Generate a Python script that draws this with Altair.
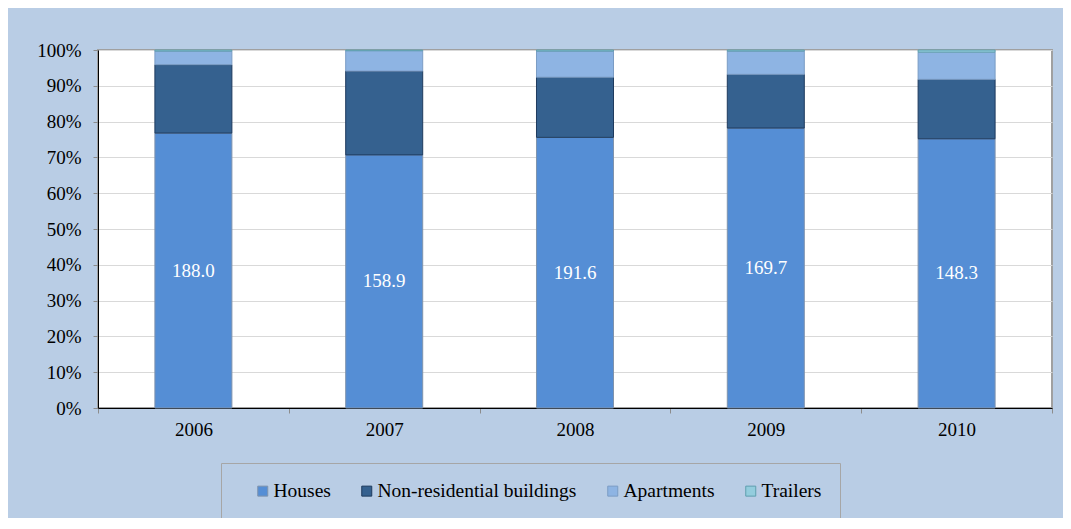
import altair as alt
import pandas as pd

years = ["2006", "2007", "2008", "2009", "2010"]
series = ["Houses", "Non-residential buildings", "Apartments", "Trailers"]
houses = [76.8, 70.7, 75.6, 78.2, 75.2]
nonres = [19.1, 23.4, 16.8, 15.0, 16.6]
apartments = [3.8, 5.7, 7.3, 6.5, 7.6]
trailers = [0.3, 0.2, 0.3, 0.3, 0.6]
house_labels = ["188.0", "158.9", "191.6", "169.7", "148.3"]
y_ticks = [0.0, 0.1, 0.2, 0.3, 0.4, 0.5, 0.6, 0.7, 0.8, 0.9, 1.0]

fills = ["#558ed5", "#35618f", "#8eb4e3", "#93cddd"]
strokes = ["#7f93ad", "#1f3b5e", "#7b9cc4", "#5f9fae"]

rows = []
for s_i, (name, vals) in enumerate(zip(series, [houses, nonres, apartments, trailers])):
    for y, v in zip(years, vals):
        rows.append({"year": y, "series": name, "value": v, "order": s_i})
df = pd.DataFrame(rows)

totals = [h + n + a + t for h, n, a, t in zip(houses, nonres, apartments, trailers)]
lab = pd.DataFrame({
    "year": years,
    "mid": [h / tot / 2 for h, tot in zip(houses, totals)],
    "label": house_labels,
})

FONT = "Liberation Serif"

x_axis = alt.Axis(labelAngle=0, tickBand="extent", labelPadding=7, labelOverlap=False,
                  labelFont=FONT, labelFontSize=19)
y_axis = alt.Axis(format=".0%", values=y_ticks, grid=True, labelPadding=12,
                  labelOverlap=False, labelFont=FONT, labelFontSize=19)
y_scale = alt.Scale(domain=[0, 1], nice=False)

legend = alt.Legend(orient="none", legendX=123, legendY=413, direction="horizontal",
                    title=None, labelFont=FONT, labelFontSize=19.5)

bars = alt.Chart(df).mark_bar(width=alt.RelativeBandSize(0.4036), strokeWidth=1).encode(
    x=alt.X("year:N", title=None, sort=years,
            scale=alt.Scale(paddingInner=0, paddingOuter=0), axis=x_axis),
    y=alt.Y("value:Q", stack="normalize", title=None, scale=y_scale, axis=y_axis),
    fill=alt.Fill("series:N", sort=series, title=None,
                  scale=alt.Scale(domain=series, range=fills), legend=legend),
    stroke=alt.Stroke("series:N", sort=series, title=None,
                      scale=alt.Scale(domain=series, range=strokes), legend=legend),
    order=alt.Order("order:Q", sort="ascending"),
)

texts = alt.Chart(lab).mark_text(color="white", font=FONT, fontSize=19,
                                 baseline="middle").encode(
    x=alt.X("year:N", sort=years, title=None, axis=x_axis),
    y=alt.Y("mid:Q", title=None, scale=y_scale, axis=y_axis),
    text="label:N",
)

chart = alt.layer(bars, texts).properties(
    width=954, height=358,
    background="#b9cde5",
    padding={"left": 90, "top": 42, "right": 11, "bottom": 110},
    autosize=alt.AutoSizeParams(type="none"),
).configure(
    font=FONT
).configure_view(
    fill="white", stroke="#a0a0a0", strokeWidth=2
).configure_axis(
    labelFont=FONT, labelFontSize=19, labelColor="black",
    domainColor="black", tickColor="#8c8c8c", tickSize=5,
    gridColor="#d9d9d9",
).configure_legend(
    symbolType="square", symbolSize=100, symbolStrokeWidth=1,
    labelFont=FONT, labelFontSize=19.5, labelColor="black", labelLimit=500,
    labelOffset=1, columnPadding=12, padding=18, symbolOffset=14,
    fillColor="#b9cde5", strokeColor="#a6a6a6",
)

chart.save("out.html", embed_options={"renderer": "svg", "actions": False})
